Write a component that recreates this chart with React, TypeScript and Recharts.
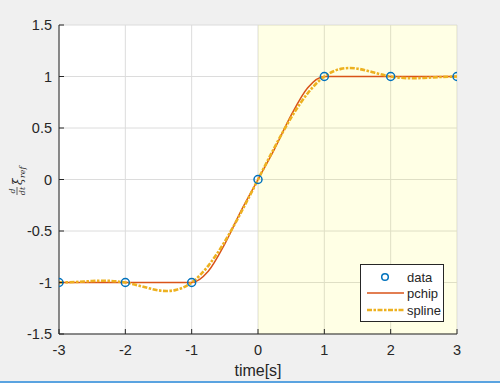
import {
  CartesianGrid,
  Legend,
  Line,
  LineChart,
  ReferenceArea,
  XAxis,
  YAxis,
} from "recharts";

// axis ticks
const xTicks = [-3, -2, -1, 0, 1, 2, 3];
const yTicks = [-1.5, -1, -0.5, 0, 0.5, 1, 1.5];

// measured samples
const dataX = [-3, -2, -1, 0, 1, 2, 3];
const dataY = [-1, -1, -1, 0, 1, 1, 1];

// curves every 0.25 s
const fineX = [
  -3, -2.75, -2.5, -2.25, -2, -1.75, -1.5, -1.25, -1, -0.75, -0.5, -0.25, 0,
  0.25, 0.5, 0.75, 1, 1.25, 1.5, 1.75, 2, 2.25, 2.5, 2.75, 3,
];
const pchipY = [
  -1, -1, -1, -1, -1, -1, -1, -1, -1, -0.891, -0.625, -0.297, 0,
  0.297, 0.625, 0.891, 1, 1, 1, 1, 1, 1, 1, 1, 1,
];
const splineY = [
  -1, -0.995, -0.986, -0.984, -1, -1.038, -1.076, -1.074, -1, -0.838, -0.601, -0.313, 0,
  0.313, 0.601, 0.838, 1, 1.074, 1.076, 1.038, 1, 0.984, 0.986, 0.995, 1,
];

const BLUE = "#0072BD";
const RED = "#D95319";
const YELLOW = "#EDB120";
const INK = "#262626";
const FONT = "'Liberation Sans', Arial, sans-serif";

const points = dataX.map((x, i) => ({ x, y: dataY[i] }));
const pchip = fineX.map((x, i) => ({ x, y: pchipY[i] }));
const spline = fineX.map((x, i) => ({ x, y: splineY[i] }));

function YLabel() {
  // d/dt ξ_ref, rotated like the matlab latex label
  const cx = 18;
  const cy = 178;
  return (
    <g transform={`rotate(-90, ${cx}, ${cy})`} fill={INK} fontFamily="'DejaVu Serif', serif" fontStyle="italic">
      <text x={cx - 13} y={cy - 3} fontSize={8} textAnchor="middle">d</text>
      <line x1={cx - 17} x2={cx - 9} y1={cy - 1} y2={cy - 1} stroke={INK} strokeWidth={0.7} />
      <text x={cx - 13} y={cy + 7} fontSize={8} textAnchor="middle">dt</text>
      <text x={cx - 7} y={cy + 4} fontSize={12}>ξ</text>
      <text x={cx} y={cy + 7} fontSize={8}>ref</text>
    </g>
  );
}

function LegendBox() {
  return (
    <svg width={84} height={58} style={{ display: "block", fontFamily: FONT }}>
      <rect x={0.5} y={0.5} width={83} height={57} fill="#fff" stroke={INK} strokeWidth={1} />
      <circle cx={25} cy={13} r={3.3} fill="none" stroke={BLUE} strokeWidth={1.5} />
      <text x={47} y={17.5} fontSize={13} fill={INK}>data</text>
      <line x1={7} x2={44} y1={29} y2={29} stroke={RED} strokeWidth={1.5} />
      <text x={47} y={33.5} fontSize={13} fill={INK}>pchip</text>
      <line x1={7} x2={44} y1={46} y2={46} stroke={YELLOW} strokeWidth={2.5} strokeDasharray="5 1.5 2.5 1.5" />
      <text x={47} y={50.5} fontSize={13} fill={INK}>spline</text>
    </svg>
  );
}

export default function App() {
  const tickStyle = { fontSize: 14.5, fill: INK, fontFamily: FONT };
  return (
    <div style={{ position: "fixed", left: 0, top: 0, width: 500, height: 383, background: "#f0f0f0" }}>
      <LineChart width={500} height={383} margin={{ top: 25, right: 43, bottom: 4, left: 0 }}>
        <CartesianGrid stroke="#dcdcdc" fill="#ffffff" />
        <ReferenceArea x1={0} x2={3} y1={-1.5} y2={1.5} fill="#ffff00" fillOpacity={0.1} stroke="none" />
        <XAxis
          dataKey="x"
          type="number"
          domain={[-3, 3]}
          ticks={xTicks}
          allowDataOverflow
          height={45}
          tickSize={-5}
          tickMargin={16}
          tick={tickStyle}
          stroke={INK}
          label={{ value: "time[s]", position: "insideBottom", offset: 3, fill: INK, fontSize: 16, fontFamily: FONT }}
        />
        <XAxis
          xAxisId="top"
          orientation="top"
          type="number"
          domain={[-3, 3]}
          ticks={xTicks}
          allowDataOverflow
          height={0}
          tickSize={-5}
          tickFormatter={() => ""}
          stroke={INK}
        />
        <YAxis
          type="number"
          domain={[-1.5, 1.5]}
          ticks={yTicks}
          allowDataOverflow
          width={59}
          tickSize={-5}
          tickMargin={12}
          tick={tickStyle}
          stroke={INK}
          label={{ content: () => <YLabel /> }}
        />
        <YAxis
          yAxisId="right"
          orientation="right"
          type="number"
          domain={[-1.5, 1.5]}
          ticks={yTicks}
          allowDataOverflow
          width={0}
          tickSize={-5}
          tickFormatter={() => ""}
          stroke={INK}
        />
        <Line
          data={pchip}
          dataKey="y"
          type="monotone"
          stroke={RED}
          strokeWidth={1.5}
          dot={false}
          isAnimationActive={false}
        />
        <Line
          data={spline}
          dataKey="y"
          type="natural"
          stroke={YELLOW}
          strokeWidth={2.6}
          strokeDasharray="5 1.5 2.5 1.5"
          dot={false}
          isAnimationActive={false}
        />
        <Line
          data={points}
          dataKey="y"
          stroke="none"
          dot={{ r: 4, stroke: BLUE, strokeWidth: 1.5, fill: "none" }}
          isAnimationActive={false}
        />
        <Legend
          layout="vertical"
          align="center"
          verticalAlign="middle"
          content={() => <LegendBox />}
          wrapperStyle={{ position: "absolute", left: 360, top: 264, width: 84, height: 58 }}
        />
      </LineChart>
      <div style={{ position: "absolute", left: 0, top: 381, width: 500, height: 2, background: "#5aa3e0" }} />
    </div>
  );
}
